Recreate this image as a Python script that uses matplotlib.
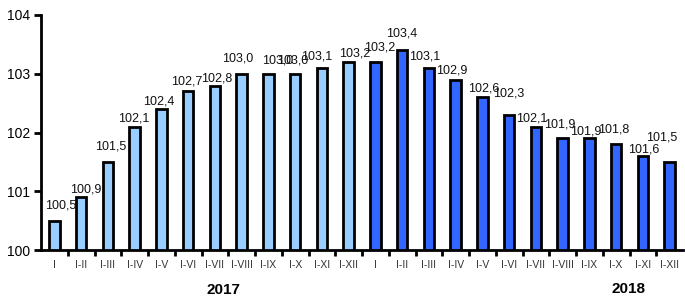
import matplotlib

matplotlib.use("Agg")
import matplotlib.pyplot as plt
import numpy as np

plt.rcParams["font.family"] = ["Liberation Sans", "DejaVu Sans"]

# cumulative index, same period of previous year = 100
months = ["I", "I-II", "I-III", "I-IV", "I-V", "I-VI", "I-VII", "I-VIII",
          "I-IX", "I-X", "I-XI", "I-XII"]
labels = months + months
values_2017 = [100.5, 100.9, 101.5, 102.1, 102.4, 102.7, 102.8, 103.0,
               103.0, 103.0, 103.1, 103.2]
values_2018 = [103.2, 103.4, 103.1, 102.9, 102.6, 102.3, 102.1, 101.9,
               101.9, 101.8, 101.6, 101.5]
values = values_2017 + values_2018

# label nudges in pixels (dx, dy above bar top), like the hand-placed ones
label_dx = [6, 5, 3, -1, -3, -1, 2, -4, 9, -2, -5, 6,
            4, 0, -4, -4, 1, 0, -4, -3, -4, -2, 1, -8]
label_dy = [15, 8, 15, 8, 7, 10, 7, 15, 13, 13, 11, 9,
            14, 17, 11, 9, 9, 21, 8, 14, 7, 15, 6, 24]

LIGHT = "#99ccff"
DARK = "#3366ff"

fig = plt.figure(figsize=(6.85, 3.0), dpi=100)
ax = fig.add_axes([41 / 685, 50 / 300, 642 / 685, 235 / 300])

x = np.arange(len(values))
colors = [LIGHT] * len(values_2017) + [DARK] * len(values_2018)
ax.bar(x, np.array(values) - 100, bottom=100, width=0.4, color=colors,
       edgecolor="black", linewidth=2, zorder=3)

for i, v in enumerate(values):
    ax.annotate(f"{v:.1f}".replace(".", ","), (x[i], v),
                xytext=(label_dx[i], label_dy[i]), textcoords="offset pixels",
                ha="center", va="center", fontsize=9, color="#111111")

ax.set_xlim(-0.5, len(values) - 0.5)
ax.set_ylim(100, 104)
ax.set_yticks([100, 101, 102, 103, 104])
ax.tick_params(axis="y", direction="out", length=5, width=2, labelsize=10, pad=3)

ax.set_xticks(x)
ax.set_xticklabels(labels, fontsize=7.5, color="#333333")
ax.set_xticks(np.arange(0.5, len(values) - 1, 1.0), minor=True)
ax.tick_params(axis="x", which="major", length=0, pad=7)
ax.tick_params(axis="x", which="minor", direction="out", length=4, width=2)

for side in ("top", "right"):
    ax.spines[side].set_visible(False)
for side in ("left", "bottom"):
    ax.spines[side].set_linewidth(2)

fig.text(223.5 / 685, 1 - 290 / 300, "2017", ha="center", va="center",
         fontsize=11, fontweight="bold")
fig.text(628 / 685, 1 - 289 / 300, "2018", ha="center", va="center",
         fontsize=11, fontweight="bold")

fig.savefig("out.png", dpi=100)
